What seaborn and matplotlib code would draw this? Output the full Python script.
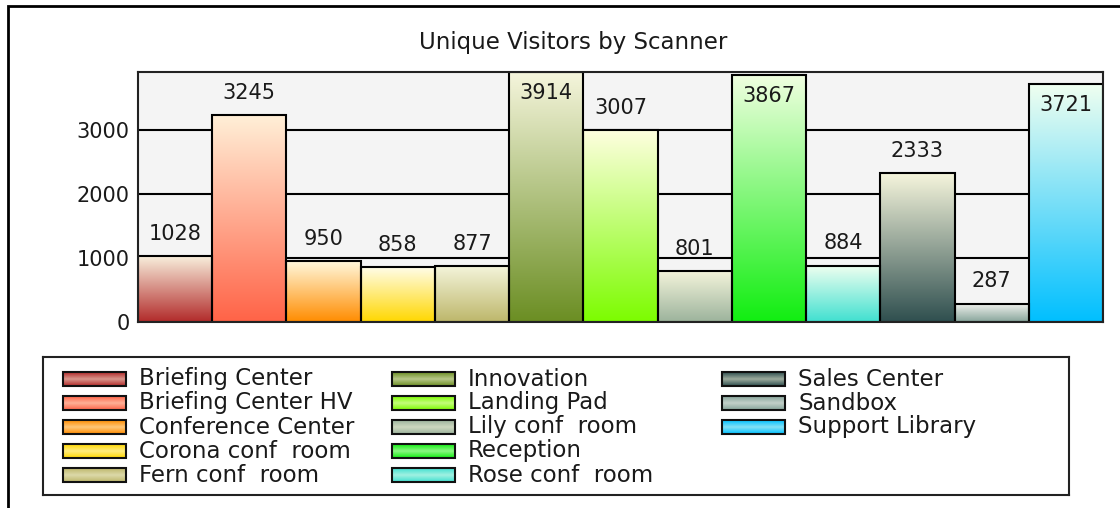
"""Unique visitors per scanner - gradient bar chart."""

import matplotlib

matplotlib.use("Agg")
import matplotlib.pyplot as plt
import numpy as np
import pandas as pd
import seaborn as sns
from matplotlib.colors import to_rgb
from matplotlib.patches import Rectangle

# data
scanners = [
    "Briefing Center", "Briefing Center HV", "Conference Center",
    "Corona conf  room", "Fern conf  room", "Innovation", "Landing Pad",
    "Lily conf  room", "Reception", "Rose conf  room", "Sales Center",
    "Sandbox", "Support Library",
]
visitors = [1028, 3245, 950, 858, 877, 3914, 3007, 801, 3867, 884, 2333, 287, 3721]
y_ticks = [0, 1000, 2000, 3000]

# gradient colours: bottom (saturated) and top (light)
bottom_colors = [
    "#b22a2a", "#ff6347", "#ff8c00", "#ffd700", "#bdb76b", "#6b8e23", "#7cfc00",
    "#9cb39c", "#11ee11", "#40e0d0", "#2f4f4f", "#86a49a", "#00bfff",
]
top_colors = [
    "#f8efdc", "#fff0d8", "#fff8dc", "#fffde8", "#f5f5dc", "#f5f5dc", "#ffffe0",
    "#f5f5dc", "#f0ffe0", "#f0fff0", "#f5f5dc", "#f4f4f0", "#f0fff0",
]

FONT = 15
LEGEND_FONT = 16.5
TITLE_FONT = 16.5


def gradient(top, bottom, n=256):
    t = np.linspace(0, 1, n)[:, None, None]
    return (1 - t) * np.array(to_rgb(top)) + t * np.array(to_rgb(bottom))


def swatch_gradient(top, bottom, n=64):
    # lighter in the middle, base colour at the edges
    t = np.abs(np.linspace(-1, 1, n))[:, None, None]
    mid = 0.55 * np.array(to_rgb(top)) + 0.45 * np.array(to_rgb(bottom))
    return (1 - t) * mid + t * np.array(to_rgb(bottom))


df = pd.DataFrame({"scanner": scanners, "visitors": visitors})

W, H = 1120, 508
fig = plt.figure(figsize=(W / 100, H / 100), dpi=100)
fig.patch.set_facecolor("white")

ax = fig.add_axes([138 / W, 1 - 322 / H, (1103 - 138) / W, (322 - 72) / H])
ax.set_facecolor("#f4f4f4")

sns.barplot(
    data=df, x="scanner", y="visitors", hue="scanner", palette=bottom_colors,
    legend=False, width=1.0, saturation=1, edgecolor="black", linewidth=1.5, ax=ax,
)

ymax = max(visitors) + 1

# replace the flat fills with vertical gradients
for patch, top, bottom in zip(ax.patches, top_colors, bottom_colors):
    x0, w, h = patch.get_x(), patch.get_width(), patch.get_height()
    ax.imshow(gradient(top, bottom), extent=[x0, x0 + w, 0, h], aspect="auto",
              zorder=1.5, interpolation="bilinear")
    patch.set_facecolor("none")
    patch.set_zorder(2)
ax.set_xlim(-0.5, len(scanners) - 0.5)
ax.set_ylim(0, ymax)

ax.set_yticks(y_ticks)
ax.set_yticklabels([str(t) for t in y_ticks], fontsize=FONT, color="#1a1a1a")
ax.set_xticks([])
ax.set_xlabel("")
ax.set_ylabel("")
ax.tick_params(axis="y", length=0, pad=6)
ax.grid(axis="y", color="black", linewidth=1.5)
ax.set_axisbelow(True)
for spine in ax.spines.values():
    spine.set_color("#222222")
    spine.set_linewidth(1.5)

# value labels: above the bar, or just inside when there's no room
px_per_unit = (322 - 72) / ymax
for i, v in enumerate(visitors):
    inside = (ymax - v) * px_per_unit < 32
    ax.annotate(str(v), (i, v), xytext=(0, -15 if inside else 16),
                textcoords="offset points", ha="center", va="center",
                fontsize=FONT, color="#1a1a1a", zorder=5)

fig.text(573 / W, 1 - 42 / H, "Unique Visitors by Scanner", ha="center",
         va="center", fontsize=TITLE_FONT, color="#1a1a1a")

# legend box, laid out in pixel units
lx0, lx1, ly0, ly1 = 43, 1069, 357, 495
lax = fig.add_axes([lx0 / W, 1 - ly1 / H, (lx1 - lx0) / W, (ly1 - ly0) / H])
lax.set_xticks([])
lax.set_yticks([])
for spine in lax.spines.values():
    spine.set_color("#222222")
    spine.set_linewidth(1.5)

col_x = [20, 349, 679]
row_h = 24
for k, (name, top, bottom) in enumerate(zip(scanners, top_colors, bottom_colors)):
    cx = col_x[k // 5]
    cy = 22 + row_h * (k % 5)
    lax.imshow(swatch_gradient(top, bottom), extent=[cx, cx + 63, cy + 7, cy - 7],
               aspect="auto", zorder=1)
    lax.add_patch(Rectangle((cx, cy - 7), 63, 14, fill=False, edgecolor="#111111",
                            linewidth=1.5, zorder=2))
    lax.text(cx + 76, cy, name, ha="left", va="center", fontsize=LEGEND_FONT,
             color="#1a1a1a")
lax.set_xlim(0, lx1 - lx0)
lax.set_ylim(ly1 - ly0, 0)

# outer frame (only left and top edges are visible in the crop)
fig.add_artist(Rectangle((8 / W, -0.05), 1.0, 1.05 - 6 / H, fill=False,
                         edgecolor="black", linewidth=2, transform=fig.transFigure,
                         clip_on=False))

fig.savefig("out.png", dpi=100)
